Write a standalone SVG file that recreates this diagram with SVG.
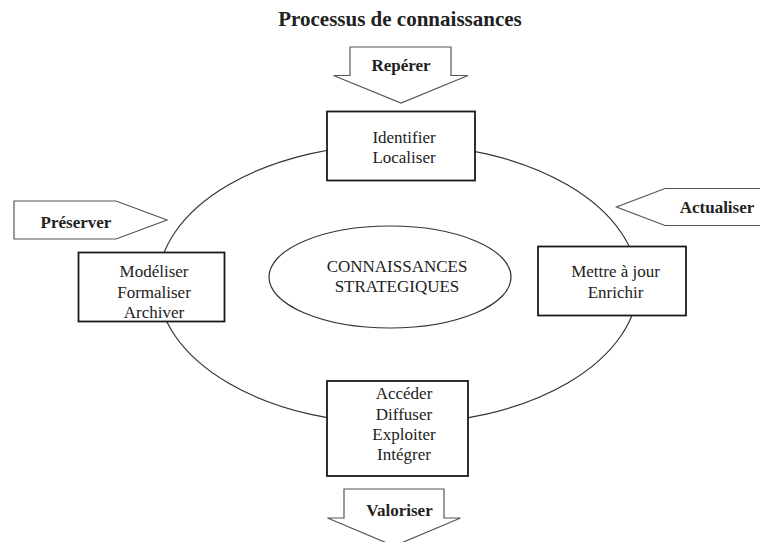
<svg xmlns="http://www.w3.org/2000/svg" width="760" height="542" viewBox="0 0 760 542">
<style>
text{font-family:"Liberation Serif","Times New Roman",serif;fill:#222;text-anchor:middle}
.t{font-size:17px}
.b{font-size:17px;font-weight:bold}
.title{font-size:21px;font-weight:bold}
.box{fill:#fff;stroke:#1a1a1a;stroke-width:1.8}
.arr{fill:#fff;stroke:#555;stroke-width:1.2}
.ell{fill:none;stroke:#333;stroke-width:1.2}
</style>
<rect width="760" height="542" fill="#fff"/>
<text class="title" x="400" y="26">Processus de connaissances</text>
<g id="connectors">
<ellipse class="ell" cx="398" cy="284" rx="240" ry="140"/>
</g>
<g id="center">
<ellipse class="ell" cx="390" cy="277" rx="121" ry="51"/>
<text class="t" x="397" y="272">CONNAISSANCES</text>
<text class="t" x="397" y="292">STRATEGIQUES</text>
</g>
<g id="reperer">
<polygon class="arr" points="350,47 451,47 451,75.5 468,75.5 401,103 333.5,75.5 350,75.5"/>
<text class="b" x="401" y="71">Repérer</text>
</g>
<g id="identifier">
<rect class="box" x="327" y="111.5" width="148" height="69"/>
<text class="t" x="404" y="142.5">Identifier</text>
<text class="t" x="404" y="162.5">Localiser</text>
</g>
<g id="preserver">
<polygon class="arr" points="14,201 116,201 167,220 116,239 14,239"/>
<text class="b" x="76" y="227.5">Préserver</text>
</g>
<g id="modeliser">
<rect class="box" x="78.5" y="252.5" width="146" height="69"/>
<text class="t" x="154" y="277">Modéliser</text>
<text class="t" x="154" y="297.5">Formaliser</text>
<text class="t" x="154" y="318">Archiver</text>
</g>
<g id="actualiser">
<polygon class="arr" points="766,188.5 665,188.5 616.5,207 665,225.5 766,225.5"/>
<text class="b" x="717" y="213">Actualiser</text>
</g>
<g id="mettre">
<rect class="box" x="538" y="246.5" width="148" height="69"/>
<text class="t" x="615.5" y="277">Mettre à jour</text>
<text class="t" x="615.5" y="297.5">Enrichir</text>
</g>
<g id="acceder">
<rect class="box" x="327" y="381" width="141" height="95"/>
<text class="t" x="404" y="398.5">Accéder</text>
<text class="t" x="404" y="419.5">Diffuser</text>
<text class="t" x="404" y="439.5">Exploiter</text>
<text class="t" x="404" y="460">Intégrer</text>
</g>
<g id="valoriser">
<polygon class="arr" points="344,489 444,489 444,518 460.5,518 394,546 327.5,518 344,518"/>
<text class="b" x="399.5" y="515.5">Valoriser</text>
</g>
</svg>
